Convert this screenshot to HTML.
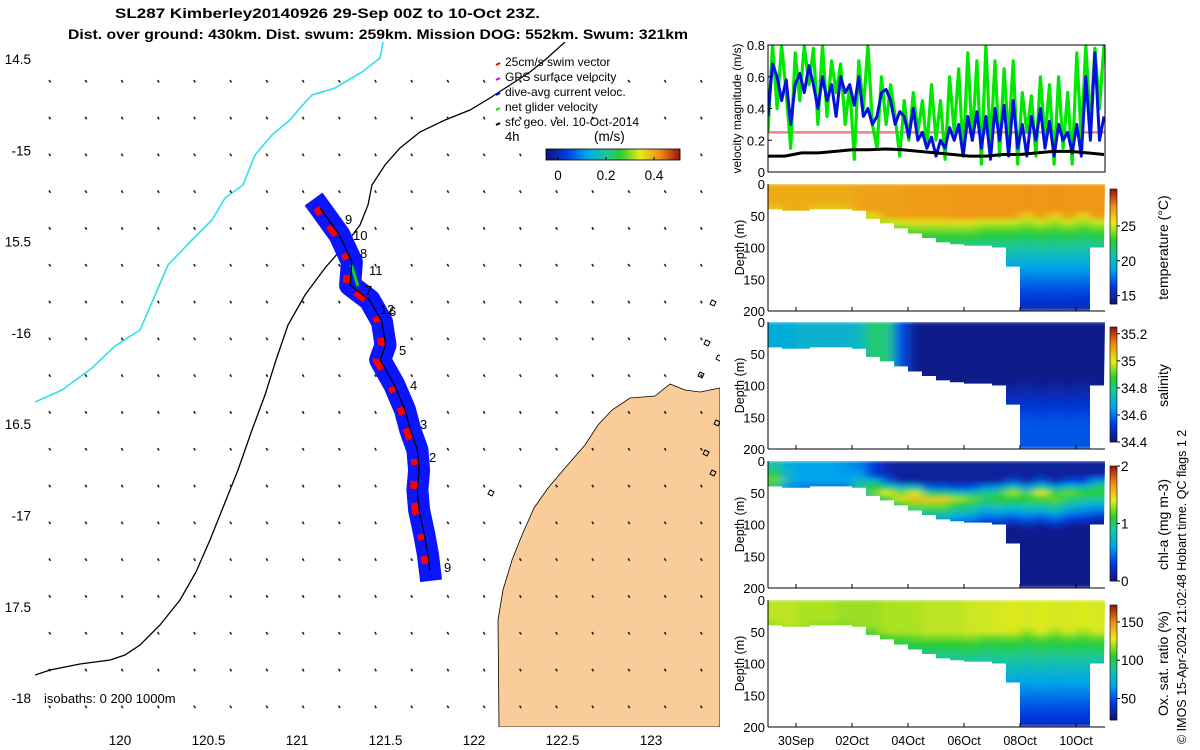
<!DOCTYPE html>
<html><head><meta charset="utf-8"><style>
html,body{margin:0;padding:0;background:#fff;}
svg{display:block;font-family:"Liberation Sans",sans-serif;}
</style></head><body>
<svg id="s" width="1200" height="750" viewBox="0 0 1200 750" xmlns="http://www.w3.org/2000/svg">
<defs id="defs">
<filter id="hblur" x="-5%" y="-5%" width="110%" height="110%"><feGaussianBlur stdDeviation="5 1.5"/></filter>
</defs>
<text x="115" y="18" textLength="425" lengthAdjust="spacingAndGlyphs" font-size="14" font-weight="bold">SL287 Kimberley20140926 29-Sep 00Z to 10-Oct 23Z.</text>
<text x="68" y="39" textLength="620" lengthAdjust="spacingAndGlyphs" font-size="14" font-weight="bold">Dist. over ground: 430km. Dist. swum: 259km. Mission DOG: 552km. Swum: 321km</text>
<g id="map"></g>
<g id="right"></g>
<text transform="translate(1186,744) rotate(-90)" font-size="12.5">© IMOS 15-Apr-2024 21:02:48 Hobart time. QC flags 1  2</text>
</svg>
<script>
// ---------- DATA ----------
const trackLon = [121.13,121.24,121.31,121.30,121.41,121.48,121.50,121.47,121.55,121.61,121.64,121.68,121.69,121.68,121.69,121.72,121.74,121.75];
const trackLat = [-15.316,-15.464,-15.612,-15.738,-15.82,-15.94,-16.066,-16.148,-16.285,-16.422,-16.532,-16.641,-16.751,-16.86,-16.97,-17.107,-17.216,-17.298];
const mapXTicks = [120,120.5,121,121.5,122,122.5,123];
const mapYTicks = [-14.5,-15,-15.5,-16,-16.5,-17,-17.5,-18];
const mapYLabels = ["14.5","-15","15.5","-16","16.5","-17","17.5","-18"];
const blueSpeed = [0.35,0.68,0.6,0.45,0.58,0.3,0.55,0.62,0.5,0.67,0.55,0.4,0.6,0.45,0.55,0.35,0.6,0.5,0.55,0.42,0.6,0.35,0.4,0.3,0.35,0.5,0.52,0.45,0.3,0.38,0.35,0.22,0.4,0.2,0.25,0.15,0.22,0.1,0.2,0.15,0.28,0.2,0.3,0.1,0.35,0.2,0.38,0.15,0.35,0.08,0.4,0.2,0.42,0.1,0.45,0.15,0.3,0.1,0.35,0.2,0.4,0.15,0.32,0.1,0.3,0.2,0.25,0.12,0.3,0.1,0.6,0.2,0.75,0.2,0.35];
const greenSpeed = [0.25,0.8,0.4,0.8,0.5,0.15,0.75,0.45,0.8,0.55,0.78,0.3,0.8,0.35,0.7,0.5,0.68,0.3,0.55,0.08,0.7,0.4,0.8,0.3,0.15,0.6,0.3,0.55,0.35,0.1,0.45,0.2,0.5,0.25,0.45,0.15,0.55,0.2,0.45,0.08,0.6,0.25,0.65,0.1,0.75,0.2,0.7,0.05,0.8,0.15,0.7,0.1,0.65,0.2,0.7,0.05,0.5,0.25,0.48,0.1,0.6,0.2,0.55,0.05,0.6,0.15,0.5,0.05,0.75,0.2,0.8,0.3,0.78,0.4,0.8];
const geoSpeed = [0.1,0.1,0.12,0.12,0.13,0.14,0.14,0.145,0.14,0.13,0.12,0.11,0.1,0.1,0.11,0.11,0.12,0.13,0.13,0.12,0.11];
const swimRef = 0.25;
const bottomDepth = [40,42,42,40,40,40,42,55,62,70,78,85,92,95,97,97,100,130,200,200,200,200,200,100];
const mld = [38,40,40,38,38,38,40,45,50,52,55,55,55,55,55,50,50,50,45,50,45,50,45,50];
const tempSurf = [27,27,27,27,27,27,27.2,27.3,27.3,27.3,27.4,27.4,27.4,27.5,27.5,27.5,27.5,27.5,27.6,27.5,27.6,27.5,27.5,27.5];
const tempDeep = 15;
const salSurf = [34.68,34.68,34.7,34.7,34.7,34.7,34.72,34.82,34.8,34.55,34.43,34.42,34.42,34.42,34.42,34.42,34.42,34.42,34.42,34.42,34.42,34.42,34.42,34.42];
const salDeep = 34.56;
const chlSurf = [0.8,0.65,0.6,0.6,0.6,0.55,0.5,0.3,0.15,0.1,0.1,0.1,0.1,0.1,0.1,0.1,0.1,0.1,0.1,0.1,0.1,0.1,0.1,0.1];
const chlPeak = [1.2,0.7,0.6,0.6,0.6,0.6,0.9,1.3,1.4,1.5,1.7,1.5,1.5,1.3,1.2,1.1,1.2,1.3,1.2,1.4,1.3,1.2,1.1,1.2];
const chlPeakDepth = [30,30,30,30,30,30,40,45,50,55,55,60,60,60,60,55,55,50,55,50,55,50,50,45];
const oxSurf = [122,122,120,120,120,118,118,118,120,120,120,122,122,122,124,124,125,126,125,126,125,125,126,125];
const oxDeep = 36;
const timeTicks = [1,3,5,7,9,11];
const timeLabels = ["30Sep","02Oct","04Oct","06Oct","08Oct","10Oct"];
const depthTicks = [0,50,100,150,200];

// ---------- HELPERS ----------
const NS="http://www.w3.org/2000/svg";
const svg=document.getElementById('s'), defs=document.getElementById('defs');
function mk(tag,attrs,parent,text){const e=document.createElementNS(NS,tag);for(const k in attrs)e.setAttribute(k,attrs[k]);if(text!==undefined)e.textContent=text;(parent||svg).appendChild(e);return e;}
const cmapStops=[[0,[20,20,120]],[0.15,[0,60,225]],[0.3,[0,165,235]],[0.45,[30,200,150]],[0.55,[40,205,50]],[0.7,[230,235,30]],[0.85,[240,140,20]],[1,[150,15,15]]];
function cmap(f){f=Math.max(0,Math.min(1,f));for(let i=1;i<cmapStops.length;i++){if(f<=cmapStops[i][0]){const a=cmapStops[i-1],b=cmapStops[i];const u=(f-a[0])/(b[0]-a[0]);const c=a[1].map((v,k)=>Math.round(v+(b[1][k]-v)*u));return `rgb(${c[0]},${c[1]},${c[2]})`;}}return 'rgb(150,15,15)';}

// ---------- MAP ----------
const map=document.getElementById('map');
const MX=lon=>120+(lon-120)*177, MY=lat=>59+(-14.5-lat)*182.6;
const clipM=mk('clipPath',{id:'mclip'},defs);mk('rect',{x:35,y:42,width:685,height:685},clipM);
const mg=mk('g',{'clip-path':'url(#mclip)'},map);
const land=mk('path',{d:'M720,388 L700,392 L685,390 L670,384 L655,396 L630,398 L612,410 L598,425 L585,445 L565,468 L548,488 L534,508 L522,535 L512,560 L503,590 L498,620 L499,727 L720,727 Z',fill:'#f9cc9a',stroke:'#000','stroke-width':0.8},mg);

[[712,300],[706,340],[718,355],[700,372],[716,420],[705,450],[712,470],[490,490]].forEach(p=>{const i=mk('path',{d:`M${p[0]},${p[1]} l4,2 l-2,4 l-4,-2 z`,fill:'none',stroke:'#000','stroke-width':1},mg);});
const iso200=mk('polyline',{points:'565,42 545,60 530,72 510,85 490,98 470,110 445,120 420,132 400,148 385,165 372,185 368,205 360,225 345,245 325,268 305,295 288,325 276,360 265,395 252,430 238,470 224,505 210,540 196,572 180,600 160,625 140,645 125,655 110,660 80,664 50,670 35,675',fill:'none',stroke:'#000','stroke-width':1.3},mg);

const iso1000=mk('polyline',{points:'383,42 380,58 362,72 335,88 312,95 300,108 290,120 272,135 255,155 243,185 225,198 212,220 192,240 168,265 153,300 140,330 115,346 92,368 62,390 35,402',fill:'none',stroke:'#33e0e8','stroke-width':1.6},mg);

for(let y=80;y<727;y+=36.8){for(let x=49;x<720;x+=36.2){const q=mk('line',{x1:x,y1:y,x2:x+1.5,y2:y+2.5,stroke:'#222','stroke-width':1.6},mg);}}
const tp=trackLon.map((l,i)=>MX(l).toFixed(1)+','+MY(trackLat[i]).toFixed(1)).join(' ');
const tb=mk('polyline',{points:tp,fill:'none',stroke:'#0a14ff','stroke-width':22,'stroke-linejoin':'round','stroke-linecap':'square'},mg);

const tpr=trackLon.map((l,i)=>(MX(l)-4).toFixed(1)+','+MY(trackLat[i]).toFixed(1)).join(' ');
const tr=mk('polyline',{points:tpr,fill:'none',stroke:'#f00','stroke-width':7,'stroke-dasharray':'8 14 12 20 6 16','stroke-linejoin':'round'},mg);

const tg=mk('line',{x1:MX(trackLon[1])+12,y1:MY(trackLat[1])+30,x2:MX(trackLon[2])+6,y2:MY(trackLat[2])+24,stroke:'#00e000','stroke-width':3},mg);

const tk=mk('polyline',{points:tp,fill:'none',stroke:'#000','stroke-width':1.2},mg);

[['9',345,224],['10',353,240],['8',360,258],['11',369,275],['7',365,295],['12',380,314],['6',389,316],['5',399,355],['4',410,390],['3',420,429],['2',429,462],['9',444,572]].forEach(d=>{const t=mk('text',{x:d[1],y:d[2],'font-size':13},mg,d[0]);});
mapXTicks.forEach(v=>{const x=MX(v);const t=mk('text',{x:x,y:745,'text-anchor':'middle','font-size':13.5},map,String(v));});
mapYTicks.forEach((v,i)=>{const y=MY(v);const t=mk('text',{x:31,y:y+5,'text-anchor':'end','font-size':13.5},map,mapYLabels[i]);});
const iso=mk('text',{x:44,y:703,'font-size':13},map,'isobaths: 0   200  1000m');
const leg=[['#f00','25cm/s swim vector'],['#e000e0','GPS surface velocity'],['#0000ff','dive-avg current veloc.'],['#00e000','net glider velocity'],['#000','sfc geo. vel. 10-Oct-2014']];
leg.forEach((l,i)=>{const y=62+i*15;const g=mk('g',{},map);mk('line',{x1:496,y1:y+3,x2:500,y2:y+1,stroke:l[0],'stroke-width':2},g);mk('text',{x:505,y:y+4,'font-size':12},g,l[1]);});
mk('text',{x:505,y:141,'font-size':13},map,'4h');
mk('text',{x:594,y:141,'font-size':13.5},map,'(m/s)');
for(let i=0;i<134;i++){mk('rect',{x:546+i,y:149,width:1.2,height:11,fill:cmap(i/134)},map);}
mk('rect',{x:546,y:149,width:134,height:11,fill:'none',stroke:'#000','stroke-width':0.8},map);
[[0,'0'],[0.2,'0.2'],[0.4,'0.4']].forEach(d=>{const x=558+d[0]*240;mk('line',{x1:x,y1:160,x2:x,y2:157,stroke:'#000'},map);mk('text',{x:x,y:180,'text-anchor':'middle','font-size':13.5},map,d[1]);});

// ---------- RIGHT PANELS ----------
const R=document.getElementById('right');
const X0=768,X1=1105,TX=t=>X0+t*28;
const vT=45,vB=172,VY=v=>vB-(v/0.8)*(vB-vT);
const clipV=mk('clipPath',{id:'vclip'},defs);mk('rect',{x:X0,y:vT,width:X1-X0,height:vB-vT},clipV);
const vg=mk('g',{'clip-path':'url(#vclip)'},R);
const rl=mk('line',{x1:X0,x2:X1,y1:VY(swimRef),y2:VY(swimRef),stroke:'#f08080','stroke-width':2.5},vg);

function series(arr,col,w,name){const n=arr.length;const pts=arr.map((v,i)=>TX(i*12/(n-1)).toFixed(1)+','+VY(v).toFixed(1)).join(' ');const p=mk('polyline',{points:pts,fill:'none',stroke:col,'stroke-width':w,'stroke-linejoin':'round'},vg);}
series(greenSpeed,'#00e800',3.2,'net-glider-speed-line');
series(blueSpeed,'#0010e0',3,'dive-avg-current-line');
series(geoSpeed,'#000',3,'surface-geo-speed-line');
mk('rect',{x:X0,y:vT,width:X1-X0,height:vB-vT,fill:'none',stroke:'#000','stroke-width':1},R);
[0,0.2,0.4,0.6,0.8].forEach(v=>{const y=VY(v);mk('line',{x1:X0,y1:y,x2:X0+4,y2:y,stroke:'#000'},R);mk('text',{x:X0-3,y:y+5,'text-anchor':'end','font-size':13},R,String(v));});
mk('text',{transform:`translate(741,${(vT+vB)/2}) rotate(-90)`,'text-anchor':'middle','font-size':12},R,'velocity magnitude (m/s)');

const panels=[
 {top:184,bot:311,vmin:13.8,vmax:30.3,ticks:[15,20,25],label:'temperature (°C)',name:'temperature',
  f:(i,z)=>{if(z<mld[i])return tempSurf[i];const u=Math.pow((z-mld[i])/(200-mld[i]),0.6);return tempSurf[i]+(tempDeep-tempSurf[i])*u;}},
 {top:322,bot:449,vmin:34.4,vmax:35.25,ticks:[34.4,34.6,34.8,35,35.2],label:'salinity',name:'salinity',
  f:(i,z)=>{if(z<mld[i]+40)return salSurf[i];const u=Math.min(1,(z-mld[i]-40)/70);return salSurf[i]+(salDeep-salSurf[i])*u;}},
 {top:461,bot:588,vmin:0,vmax:2,ticks:[0,1,2],label:'chl-a (mg m-3)',name:'chlorophyll',
  f:(i,z)=>{const pd=chlPeakDepth[i];if(z<pd-25)return chlSurf[i];if(z<pd)return chlSurf[i]+(chlPeak[i]-chlSurf[i])*(z-pd+25)/25;return Math.max(0.05,chlPeak[i]*(1-(z-pd)/55));}},
 {top:600,bot:727,vmin:22,vmax:172,ticks:[50,100,150],label:'Ox. sat. ratio (%)',name:'oxygen',
  f:(i,z)=>{if(z<mld[i])return oxSurf[i];const u=Math.pow((z-mld[i])/(200-mld[i]),0.7);return oxSurf[i]+(oxDeep-oxSurf[i])*u;}}
];
panels.forEach((P,pi)=>{
 const DY=z=>P.top+z/200*(P.bot-P.top);
 // clip polygon from bottom depths
 let pts=`${X0},${P.top} ${X1},${P.top}`;
 for(let i=bottomDepth.length-1;i>=0;i--){const y=DY(bottomDepth[i]).toFixed(1);pts+=` ${Math.min(X1,TX(i*0.5+0.5))},${y} ${TX(i*0.5)},${y}`;}
 const cp=mk('clipPath',{id:'cp'+pi},defs);mk('polygon',{points:pts},cp);
 const outer=mk('g',{'clip-path':`url(#cp${pi})`},R);
 
 const g=mk('g',{filter:'url(#hblur)'},outer);
 bottomDepth.forEach((bd,i)=>{
  const gid='g'+pi+'_'+i;const lg=mk('linearGradient',{id:gid,gradientUnits:'userSpaceOnUse',x1:0,x2:0,y1:P.top,y2:P.bot},defs);
  for(let z=0;z<=200;z+=10){mk('stop',{offset:z/200,'stop-color':cmap((P.f(i,z)-P.vmin)/(P.vmax-P.vmin))},lg);}
  const x=TX(i*0.5)-(i==0?10:0);const w=14.5+(i==0?10:0)+(i==bottomDepth.length-1?10:0);
  const c=mk('rect',{x:x,y:P.top,width:w,height:P.bot-P.top,fill:`url(#${gid})`},g);
  
 });
 mk('line',{x1:X0,y1:P.bot,x2:X1,y2:P.bot,stroke:'#000'},R);
 mk('line',{x1:X0,y1:P.top,x2:X0,y2:P.bot,stroke:'#000'},R);
 depthTicks.forEach(z=>{mk('text',{x:X0-3,y:DY(z)+5,'text-anchor':'end','font-size':13},R,String(z));});
 timeTicks.forEach(t=>{mk('line',{x1:TX(t),y1:P.bot,x2:TX(t),y2:P.bot-4,stroke:'#000'},R);});
 mk('text',{transform:`translate(744,${(P.top+P.bot)/2}) rotate(-90)`,'text-anchor':'middle','font-size':12.5},R,'Depth (m)');
 const cT=P.top+5,cB=P.bot-7,cX=1110;
 for(let k=0;k<cB-cT;k++){mk('rect',{x:cX,y:cB-k-1,width:7,height:1.3,fill:cmap(k/(cB-cT))},R);}
 const cbo=mk('rect',{x:cX,y:cT,width:7,height:cB-cT,fill:'none',stroke:'#000','stroke-width':0.6},R);
 P.ticks.forEach(v=>{const y=cB-(v-P.vmin)/(P.vmax-P.vmin)*(cB-cT);mk('line',{x1:cX+7,y1:y,x2:cX+10,y2:y,stroke:'#000'},R);mk('text',{x:1121,y:y+5,'font-size':13.5},R,String(v));});
 mk('text',{transform:`translate(1168,${(P.top+P.bot)/2}) rotate(-90)`,'text-anchor':'middle','font-size':14},R,P.label);
});
timeTicks.forEach((t,i)=>{mk('text',{x:TX(t),y:745,'text-anchor':'middle','font-size':12.5},R,timeLabels[i]);});
</script>
</body></html>
